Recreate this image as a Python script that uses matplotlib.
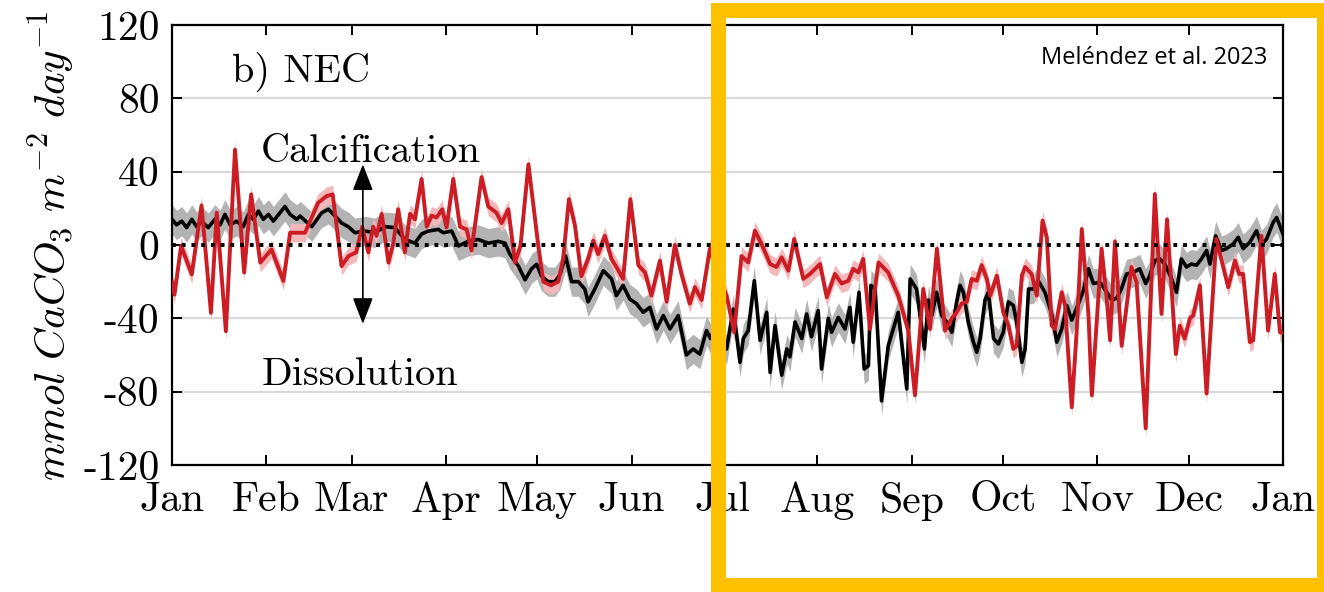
import matplotlib
matplotlib.use("Agg")
import matplotlib.pyplot as plt
from matplotlib.patches import Rectangle
import numpy as np

# ---------------- data ----------------
month_labels = ["Jan", "Feb", "Mar", "Apr", "May", "Jun", "Jul", "Aug",
                "Sep", "Oct", "Nov", "Dec", "Jan"]
month_days = [0, 31, 59, 90, 120, 151, 181, 212, 243, 273, 304, 334, 365]
ytick_vals = [-120, -80, -40, 0, 40, 80, 120]
ytick_labels = ["-120", "-80", "-40", "0", "40", "80", "120"]

black_days = [0, 1.5, 3.2, 4.8, 6.5, 8.1, 9.7, 11.9, 14.1, 15.8, 17.4, 19.1, 21.2, 23.4,
              25.1, 26.7, 28.4, 30, 31.7, 33.3, 35.5, 37.1, 38.8, 41, 42.1, 45.9, 49.2,
              51.4, 53.6, 55.7, 57.9, 60.1, 63.4, 66.7, 70, 73.2, 76.5, 79.8, 82, 84.2,
              87.5, 89.1, 91.9, 94.1, 97.3, 100.6, 103.9, 107.2, 109.4, 111, 113.8, 116,
              118.1, 119.8, 121.4, 123.6, 125.8, 127.5, 129.3, 131.3, 133.5, 135.6, 136.7,
              138.9, 141.7, 144.4, 146, 148.2, 150.4, 152.6, 154.8, 157, 159.2, 161.4,
              163.6, 166.3, 169, 171.2, 173.4, 175.6, 176.9, 178.5, 180.5, 182.2, 184.4,
              186.6, 187.7, 189.3, 191.3, 193.2, 195.4, 196.5, 198.1, 200.3, 202, 203,
              204.7, 206.9, 208.5, 210.1, 212.3, 213.4, 215.6, 216.7, 218.9, 221.1, 222.7,
              223.8, 225.7, 227.4, 228.8, 229.6, 231, 233.1, 235.3, 238.6, 241.4, 242.5,
              244.6, 247.2, 248.5, 249.6, 251.2, 252.9, 254.5, 256.2, 257.8, 258.9, 260,
              261.6, 263.3, 264.4, 265.5, 267.1, 268.2, 269.9, 271.5, 273.1, 274.8, 276.4,
              277.5, 279.2, 280.3, 281.4, 283, 284.6, 286.8, 289, 290.7, 292.3, 294, 295.6,
              297.8, 299.4, 301.1, 302.7, 304.9, 307.1, 308.7, 310.4, 311.9, 313.6, 315.8,
              317.9, 319.9, 321.2, 322.9, 324.5, 326.2, 328.4, 330, 331.6, 333.3, 334.9,
              336.6, 338.2, 339.9, 341, 342.9, 344.8, 346.4, 348.6, 350.3, 351.9, 354.1,
              356.3, 357.9, 359.6, 361.8, 362.9, 365]
black_vals = [14, 11, 13, 9.5, 14, 10, 13, 9.5, 14, 11, 16.7, 11, 13, 10,
              16.7, 14, 18.5, 14, 16.7, 13, 17.6, 21, 16.7, 14, 15.8, 10, 17.6,
              19.5, 15.8, 12, 10, 6.7, 7.6, 6.7, 10, 9.5, 3, 1, 6, 7.6,
              8.5, 6.7, 7.6, -0.5, 2, 3, 1, 2, 1, -5, -11.5, -19,
              -13, -10.5, -17, -20, -20, -16, -6, -20, -20, -24, -31,
              -24, -14, -18.5, -27.6, -22, -29.5, -32, -36.7, -34, -45.8, -38.5,
              -45.8, -38.5, -60, -56.7, -59.5, -46.7, -51, -45, -55, -56.7, -35,
              -64, -51, -46.7, -19.5, -52, -36.7, -69.5, -44, -71, -56.7, -61,
              -42, -51, -37.6, -50, -35.8, -67.6, -40, -47.6, -39.5, -45.8, -34,
              -53, -25.8, -67.6, -65.8, -22, -24, -85, -55, -36.7, -78.5, -18.5,
              -24, -56.7, -30, -38.5, -25.8, -38.5, -42, -47.6, -31, -22, -25.8,
              -42, -53, -58.5, -51, -30, -25.8, -51, -54, -47.6, -31, -33,
              -42, -64, -56.7, -24, -24, -19.5, -25.8, -37.6, -53, -45.8, -33, -41,
              -32, -25, -13, -21, -20.4, -25.8, -30, -29, -24, -15.8, -15,
              -13, -21, -16.7, -8.5, -7.6, -10.4, -18.5, -25.8, -7.6, -12, -10.4,
              -11, -7.6, -3, -10.4, 5, -3, -2, 0.5, 4.2, -2, 1.5,
              7.8, 0, 3.3, 12.4, 15, 6]

red_days = [0, 0.8, 3, 6.5, 9.7, 12.8, 14.7, 17.7, 20.7, 23.7, 26, 29, 32.7, 36.6, 38.8,
            43.7, 48, 50.8, 52.8, 55.7, 58, 60.5, 62.5, 64.5, 66.1, 67.2, 68.9, 71.1,
            72.7, 74.3, 76.5, 78.2, 79.8, 82, 83.7, 85.3, 86.9, 88.8, 90.2, 92.4, 94.6,
            96.8, 98.4, 101.7, 103.9, 106.6, 108.3, 110.5, 112.7, 114.5, 117.1, 120.3,
            122, 124.5, 126.9, 128.5, 130.4, 132.4, 134.5, 136.7, 138.4, 140, 142.2,
            144.4, 146, 148.2, 150.6, 153.2, 155.4, 157.5, 160.3, 162.5, 165.2, 167.4,
            170.1, 171.8, 174, 176.7, 179, 182.2, 184.7, 187.1, 189.3, 191.5, 193.7,
            196.5, 198.6, 200.3, 202.5, 204.4, 207.4, 209.6, 212.9, 215.1, 217.8, 220,
            222.2, 223.8, 225.5, 227.1, 229.3, 232.1, 235.3, 238.6, 241.9, 244.1, 246.8,
            249, 251.3, 254, 256.2, 257.8, 259.4, 261.1, 262.7, 264.4, 266, 267.7, 268.8,
            271, 273.1, 274.8, 276.4, 277.5, 279.2, 280.3, 282.4, 284.1, 286, 287.4, 289,
            290.1, 292.3, 293.4, 295.6, 297.2, 298.9, 301.1, 302.2, 305.4, 307.1, 308.2,
            309.8, 312, 315.2, 316.9, 319.9, 322.9, 325.1, 326.9, 329.8, 331.1, 332.7,
            334.4, 335.5, 337.7, 339.9, 343.1, 347, 349.2, 350.6, 351.9, 354.1, 355.2,
            357.9, 360.1, 362.3, 364, 365]
red_vals = [-20, -27, -0.5, -16, 21.6, -37, 17.6, -47, 52, -15, 27.6, -9.6, -2.4, -19.6, 6.7,
            6.7, 23, 26.7, 27.6, -11.5, -6, -4, 10, -4, 10, 5, 17, -9.6,
            1, 19.5, -4, 17, 14, 36, 10, 16, 15, 19.5, 9.5, 36, 10,
            8.5, -3, 37, 21, 17.6, 12, 19.5, -9.6, -0.5, 44, 0,
            -20, -22, -20, -7.6, 25, 10.5, -17, -7.6, 2.4, -5, 5,
            -7.6, -12, -18.5, 25, -11, -15, -27.6, -8.5, -31, 0, -16,
            -32, -23, -30, -2, -15, -27.6, -47.6, -6, -9.5, 7.8, 0.5,
            -10.4, -12, -6.7, -14, 3.3, -18.5, -15.8, -10.4, -28.5, -15.8, -21,
            -19.5, -13, -15, -7.6, -45.8, -9.5, -15, -27.6, -46.7, -82, -24,
            -45.8, -2, -46.7, -40, -36.7, -32, -31, -18.5, -19.5, -11, -18.5, -27.6,
            -16.7, -36.7, -44, -56.7, -55, -16.7, -12, -15.8, -27.6, 13.3, 4.2, -44,
            -45.8, -25.8, -33, -88.5, -47.6, 8.7, -38.5, -82, -2, -29.5, -52,
            2, -55, -12, -20.4, -100, 27.8, -37.6, 14, -59.5, -44, -51,
            -40, -38.5, -22, -81, 3.3, -23, -8.5, -15.8, -15.8, -53, -52,
            5, -46.7, -15.8, -47.6, -48]

black_band = 8.0
red_band = 5.0

# ---------------- style ----------------
plt.rcParams["mathtext.fontset"] = "cm"
plt.rcParams["font.family"] = ["cmr10", "DejaVu Serif"]
plt.rcParams["axes.formatter.use_mathtext"] = True
plt.rcParams["axes.unicode_minus"] = False

W, H = 1324, 592
fig = plt.figure(figsize=(W / 100, H / 100), dpi=100)
ax = fig.add_axes([172 / W, 1 - 465 / H, (1283 - 172) / W, (465 - 25) / H])

bd = np.array(black_days)
bv = np.array(black_vals)
rd = np.array(red_days)
rv = np.array(red_vals)

for yv in [-80, -40, 40, 80]:
    ax.axhline(yv, color="#d9d9d9", lw=1.6, zorder=0)

ax.fill_between(bd, bv - black_band, bv + black_band, color="#b3b3b3", lw=0, zorder=1)
ax.plot(bd, bv, color="black", lw=2.6, zorder=3, solid_joinstyle="round")
ax.fill_between(rd, rv - red_band, rv + red_band, color="#f2b8ba", lw=0, zorder=2)
ax.plot(rd, rv, color="#cc1c24", lw=2.8, zorder=4, solid_joinstyle="round")

ax.axhline(0, color="black", lw=2.8, linestyle=(0, (1, 1.5)), dash_capstyle="butt", zorder=5)

ax.set_xlim(0, 365)
ax.set_ylim(-120, 120)
ax.set_xticks(month_days)
ax.set_xticklabels(month_labels, fontsize=30)
ax.set_yticks(ytick_vals)
ax.set_yticklabels(ytick_labels, fontsize=30)
ax.tick_params(direction="in", length=7, width=1.4, top=True, right=True)
ax.tick_params(axis="x", pad=12)
ax.tick_params(axis="y", pad=9)
for s in ax.spines.values():
    s.set_linewidth(1.6)

fig.text(52 / W, 1 - 246 / H, r"$mmol\ CaCO_3\ m^{-2}\ day^{-1}$", fontsize=31,
         rotation=90, ha="center", va="center")

ax.text(19.7, 88.9, "b) NEC", fontsize=29, va="baseline", ha="left")
ax.text(29.2, 45.5, "Calcification", fontsize=29, va="baseline", ha="left")
ax.text(29.6, -76.4, "Dissolution", fontsize=29, va="baseline", ha="left")
ax.annotate("", xy=(62.7, 44), xytext=(62.7, -43),
            arrowprops=dict(arrowstyle="<|-|>,head_length=0.9,head_width=0.35",
                            color="black", lw=1.2, shrinkA=0, shrinkB=0, mutation_scale=18),
            zorder=6)
ax.text(360, 98.7, "Meléndez et al. 2023", fontsize=17, va="baseline", ha="right",
        family=["Open Sans", "DejaVu Sans"])

# yellow highlight frame
lw_px = 15
rect = Rectangle((718 / W, 1 - 585 / H), (1323.5 - 718) / W, (585 - 9.5) / H,
                 transform=fig.transFigure, fill=False, edgecolor="#ffc000",
                 lw=lw_px * 72 / 100, joinstyle="miter", zorder=20, clip_on=False)
fig.patches.append(rect)

fig.savefig("out.png", dpi=100)
